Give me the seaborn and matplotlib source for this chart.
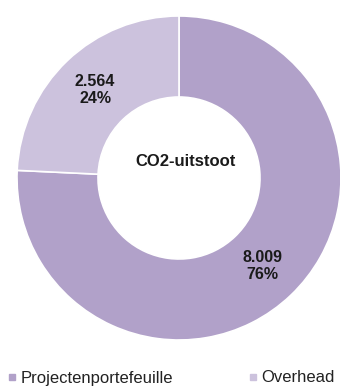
import matplotlib
matplotlib.use("Agg")
import matplotlib.pyplot as plt
import seaborn as sns
from matplotlib.lines import Line2D

categories = ["Projectenportefeuille", "Overhead"]
values = [8009, 2564]
colors = ["#B1A1C9", "#CCC2DD"]
center_label = "CO2-uitstoot"

sns.set_theme(style="white")
plt.rcParams['font.family'] = ['Liberation Sans', 'DejaVu Sans']

fig = plt.figure(figsize=(3.40, 3.91), dpi=100)
ax = fig.add_axes([17/340, 51/391, 324/340, 324/391])

total = sum(values)

def fmt(pct):
    v = int(round(pct * total / 100.0))
    s = f"{v:,}".replace(",", ".")
    return f"{s}\n{pct:.0f}%"

wedges, texts, autotexts = ax.pie(
    values, colors=colors, startangle=90, counterclock=False,
    autopct=fmt, pctdistance=0.75,
    wedgeprops=dict(width=0.5, edgecolor="white", linewidth=1.2),
    textprops=dict(fontsize=11.5, fontweight="bold", color="#1a1a1a"),
)
for t in autotexts:
    t.set_linespacing(1.1)
ax.text(0.04, 0.1, center_label, ha="center", va="center",
        fontsize=12, fontweight="bold", color="#1a1a1a")
ax.set_xlim(-1, 1)
ax.set_ylim(-1, 1)
ax.set_aspect("equal")
ax.axis("off")

handles = [Line2D([0], [0], marker="s", linestyle="", markersize=5,
                  markerfacecolor=c, markeredgecolor=c) for c in colors]
fig.legend(handles, categories, loc="center left", ncol=2,
           bbox_to_anchor=(0.0, 13/391), frameon=False,
           fontsize=12, handlelength=0.5, handletextpad=0.25,
           borderpad=0.3, borderaxespad=0.2,
           columnspacing=4.55, labelcolor="#222222")

fig.savefig("out.png", dpi=100)
